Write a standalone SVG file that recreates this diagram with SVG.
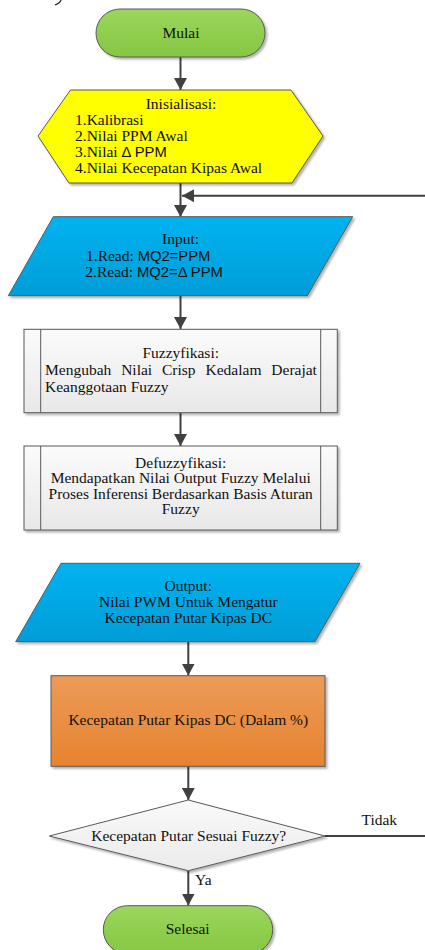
<svg xmlns="http://www.w3.org/2000/svg" width="425" height="950" viewBox="0 0 425 950">
<style>
text{font-family:"Liberation Serif","Times New Roman",serif;font-size:15.5px;fill:#111}
.c{text-anchor:middle}
.s{font-family:"Liberation Sans",Arial,sans-serif;font-size:14.8px}
.node{stroke:#595959;stroke-width:1;filter:url(#sh)}
.con{stroke:#404040;stroke-width:2;fill:none}
</style>
<defs>
<filter id="sh" x="-10%" y="-10%" width="125%" height="130%">
<feDropShadow dx="2" dy="2" stdDeviation="1" flood-color="#000" flood-opacity="0.3"/>
</filter>
<linearGradient id="gGreen" x1="0" y1="0" x2="0" y2="1"><stop offset="0" stop-color="#9AD65C"/><stop offset="1" stop-color="#86C742"/></linearGradient>
<linearGradient id="gBlue" x1="0" y1="0" x2="0" y2="1"><stop offset="0" stop-color="#00B3F0"/><stop offset="1" stop-color="#009DD8"/></linearGradient>
<linearGradient id="gGray" x1="0" y1="0" x2="0" y2="1"><stop offset="0" stop-color="#FBFBFB"/><stop offset="1" stop-color="#E8E8E8"/></linearGradient>
<linearGradient id="gOrange" x1="0" y1="0" x2="0" y2="1"><stop offset="0" stop-color="#EC9B58"/><stop offset="1" stop-color="#E6832F"/></linearGradient>
<linearGradient id="gDia" x1="0" y1="0" x2="0" y2="1"><stop offset="0" stop-color="#F9F9F9"/><stop offset="1" stop-color="#EBEBEB"/></linearGradient>
<marker id="arr" markerUnits="userSpaceOnUse" markerWidth="13" markerHeight="13" refX="12" refY="6.5" orient="auto">
<path d="M0,0 L12,6.5 L0,13 z" fill="#404040"/>
</marker>
</defs>
<rect width="425" height="950" fill="#fff"/>
<path d="M61,0 Q60,3 55,5" stroke="#222" stroke-width="1.3" fill="none"/>

<g id="connectors">
<line class="con" x1="180.5" y1="57" x2="180.5" y2="90" marker-end="url(#arr)"/>
<line class="con" x1="180.5" y1="183" x2="180.5" y2="217" marker-end="url(#arr)"/>
<line class="con" x1="425" y1="195.7" x2="182" y2="195.7" marker-end="url(#arr)"/>
<line class="con" x1="180.5" y1="296" x2="180.5" y2="329" marker-end="url(#arr)"/>
<line class="con" x1="180.5" y1="413" x2="180.5" y2="446" marker-end="url(#arr)"/>
<line class="con" x1="188.3" y1="642" x2="188.3" y2="675.5" marker-end="url(#arr)"/>
<line class="con" x1="188.3" y1="766.5" x2="188.3" y2="800" marker-end="url(#arr)"/>
<line class="con" x1="188.3" y1="871" x2="188.3" y2="905.5" marker-end="url(#arr)"/>
<line class="con" x1="325" y1="836" x2="425" y2="836"/>
<text x="361.5" y="825">Tidak</text>
<text x="195" y="884.5">Ya</text>
</g>

<g id="mulai">
<rect class="node" x="96" y="9" width="169" height="48" rx="24" fill="url(#gGreen)"/>
<text class="c" x="181" y="38">Mulai</text>
</g>

<g id="inisialisasi">
<polygon class="node" points="70.5,90 291,90 323,136 292,183 69,183 38,136" fill="#FFFF00"/>
<text class="c" x="181" y="109">Inisialisasi:</text>
<text x="75" y="125">1.Kalibrasi</text>
<text x="75" y="141">2.Nilai PPM Awal</text>
<text x="75" y="157">3.Nilai <tspan class="s">Δ PPM</tspan></text>
<text x="75" y="173.3">4.Nilai Kecepatan Kipas Awal</text>
</g>

<g id="input">
<polygon class="node" points="53.3,216.7 352.7,216.7 307.3,295.7 8.3,295.7" fill="url(#gBlue)"/>
<text class="c" x="180.5" y="243.7">Input:</text>
<text x="86" y="261">1.Read: <tspan class="s">MQ2=PPM</tspan></text>
<text x="85.3" y="276.7">2.Read: <tspan class="s">MQ2=Δ PPM</tspan></text>
</g>

<g id="fuzzyfikasi">
<rect class="node" x="24" y="329.3" width="313.3" height="83.4" fill="url(#gGray)"/>
<line x1="40.7" y1="329.3" x2="40.7" y2="412.7" stroke="#595959"/>
<line x1="320.7" y1="329.3" x2="320.7" y2="412.7" stroke="#595959"/>
<text class="c" x="180.7" y="358.3">Fuzzyfikasi:</text>
<text x="45" y="375" word-spacing="6">Mengubah Nilai Crisp Kedalam Derajat</text>
<text x="45" y="391.7">Keanggotaan Fuzzy</text>
</g>

<g id="defuzzyfikasi">
<rect class="node" x="24" y="446" width="313.3" height="84" fill="url(#gGray)"/>
<line x1="40.7" y1="446" x2="40.7" y2="530" stroke="#595959"/>
<line x1="320.7" y1="446" x2="320.7" y2="530" stroke="#595959"/>
<text class="c" x="180.7" y="467.7">Defuzzyfikasi:</text>
<text class="c" x="180.7" y="483.3">Mendapatkan Nilai Output Fuzzy Melalui</text>
<text class="c" x="180.7" y="499">Proses Inferensi Berdasarkan Basis Aturan</text>
<text class="c" x="180.7" y="514.3">Fuzzy</text>
</g>

<g id="output">
<polygon class="node" points="61,563.3 360,563.3 315,641.7 15.7,641.7" fill="url(#gBlue)"/>
<text class="c" x="188.3" y="590.7">Output:</text>
<text class="c" x="188.3" y="606.7">Nilai PWM Untuk Mengatur</text>
<text class="c" x="188.3" y="622.7">Kecepatan Putar Kipas DC</text>
</g>

<g id="kecepatan">
<rect class="node" x="51" y="675.7" width="274" height="90.6" fill="url(#gOrange)"/>
<text class="c" x="188.3" y="725">Kecepatan Putar Kipas DC (Dalam %)</text>
</g>

<g id="keputusan">
<polygon class="node" points="188.3,800 325,836 188.3,870.7 49.3,836" fill="url(#gDia)"/>
<text class="c" x="188.7" y="840.5">Kecepatan Putar Sesuai Fuzzy?</text>
</g>

<g id="selesai">
<rect class="node" x="103.3" y="905.7" width="169.4" height="48" rx="24" fill="url(#gGreen)"/>
<text class="c" x="187.7" y="934">Selesai</text>
</g>
</svg>
